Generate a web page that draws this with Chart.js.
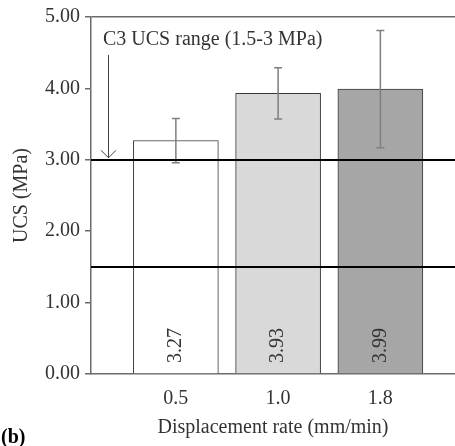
<!DOCTYPE html>
<html>
<head>
<meta charset="utf-8">
<script src="https://cdn.jsdelivr.net/npm/chart.js@4.4.1/dist/chart.umd.min.js"></script>
<style>
  html, body { margin: 0; padding: 0; background: #fff; }
  #wrap { position: relative; width: 455px; height: 446px; }
</style>
</head>
<body>
<div id="wrap"><canvas id="ucs" width="455" height="446"></canvas></div>
<script>
// displacement rates and mean UCS with standard deviation
const rates = ['0.5', '1.0', '1.8'];
const ucs = [3.27, 3.93, 3.99];
const sd = [0.31, 0.36, 0.82];
const barFills = ['#ffffff', '#d9d9d9', '#a6a6a6'];
const yTicks = [0, 1, 2, 3, 4, 5];
// C3 target band, drawn as two lines
const c3Range = [1.5, 3];
const c3Label = 'C3 UCS range (1.5-3 MPa)';

const serif = '"Liberation Serif", "Times New Roman", serif';
const ink = '#333333';
const axisGrey = '#6b6b6b';

// error bars, band lines, value labels and annotation
const overlay = {
  id: 'overlay',
  afterDatasetsDraw(chart) {
    const { ctx, chartArea, scales: { x, y } } = chart;
    ctx.save();

    // whiskers
    ctx.strokeStyle = '#7f7f7f';
    ctx.lineWidth = 1.5;
    ucs.forEach((v, i) => {
      const cx = x.getPixelForValue(i + 1);
      const top = y.getPixelForValue(v + sd[i]);
      const bot = y.getPixelForValue(v - sd[i]);
      ctx.beginPath();
      ctx.moveTo(cx, top); ctx.lineTo(cx, bot);
      ctx.moveTo(cx - 4, top); ctx.lineTo(cx + 4, top);
      ctx.moveTo(cx - 4, bot); ctx.lineTo(cx + 4, bot);
      ctx.stroke();
    });

    // band limits
    ctx.strokeStyle = '#000';
    ctx.lineWidth = 2;
    c3Range.forEach(v => {
      const py = Math.round(y.getPixelForValue(v));
      ctx.beginPath();
      ctx.moveTo(chartArea.left, py);
      ctx.lineTo(chartArea.right, py);
      ctx.stroke();
    });

    // rotated values inside the bars
    ctx.fillStyle = ink;
    ctx.font = '20px ' + serif;
    ctx.textAlign = 'left';
    ctx.textBaseline = 'middle';
    ucs.forEach((v, i) => {
      ctx.save();
      ctx.translate(x.getPixelForValue(i + 1), y.getPixelForValue(0) - 11);
      ctx.rotate(-Math.PI / 2);
      ctx.fillText(v.toFixed(2), 0, 0);
      ctx.restore();
    });

    // label and arrow pointing at the upper limit
    ctx.textBaseline = 'alphabetic';
    ctx.fillText(c3Label, chartArea.left + 12, y.getPixelForValue(4.61));
    const ax = chartArea.left + 17.5;
    const tip = y.getPixelForValue(c3Range[1]) - 2;
    ctx.strokeStyle = '#404040';
    ctx.lineWidth = 1;
    ctx.beginPath();
    ctx.moveTo(ax, y.getPixelForValue(4.47));
    ctx.lineTo(ax, tip);
    ctx.moveTo(ax - 7.5, tip - 7.5);
    ctx.lineTo(ax, tip);
    ctx.lineTo(ax + 7.5, tip - 7.5);
    ctx.stroke();

    // panel letter
    ctx.font = 'bold 20px ' + serif;
    ctx.fillStyle = '#000';
    ctx.fillText('(b)', 1, 443);
    ctx.restore();
  }
};

new Chart(document.getElementById('ucs'), {
  type: 'bar',
  data: {
    datasets: [{
      data: ucs.map((v, i) => ({ x: i + 1, y: v })),
      backgroundColor: barFills,
      borderColor: '#3a3a3a',
      borderWidth: 1,
      barThickness: 85
    }]
  },
  options: {
    responsive: false,
    devicePixelRatio: 1,
    animation: false,
    layout: { padding: { top: 15, right: 0, bottom: 0, left: 0 } },
    plugins: { legend: { display: false }, tooltip: { enabled: false } },
    scales: {
      x: {
        type: 'linear',
        offset: false,
        min: 0.17,
        max: 3.73,
        afterBuildTicks: s => { s.ticks = rates.map((_, i) => ({ value: i + 1 })); },
        afterFit: s => { s.height = 72; },
        ticks: {
          callback: v => rates[v - 1],
          font: { family: serif, size: 20 },
          color: ink,
          padding: 5,
          maxRotation: 0
        },
        grid: { display: false, offset: false },
        border: { color: axisGrey, width: 1.5 },
        title: {
          display: true,
          text: 'Displacement rate (mm/min)',
          font: { family: serif, size: 20 },
          color: ink,
          padding: { top: 6, bottom: 6 }
        }
      },
      y: {
        min: 0,
        max: 5,
        afterBuildTicks: s => { s.ticks = yTicks.map(v => ({ value: v })); },
        afterFit: s => { s.width = 91; },
        ticks: {
          callback: v => v.toFixed(2),
          font: { family: serif, size: 20 },
          color: ink,
          padding: 5
        },
        grid: {
          color: c => (c.tick && c.tick.value === 5 ? axisGrey : 'rgba(0,0,0,0)'),
          tickColor: axisGrey,
          tickLength: 6,
          lineWidth: 1.5
        },
        border: { color: axisGrey, width: 1.5 },
        title: {
          display: true,
          text: 'UCS (MPa)',
          font: { family: serif, size: 20 },
          color: ink,
          padding: { top: 10, bottom: 4 }
        }
      }
    }
  },
  plugins: [overlay]
});
</script>
</body>
</html>
